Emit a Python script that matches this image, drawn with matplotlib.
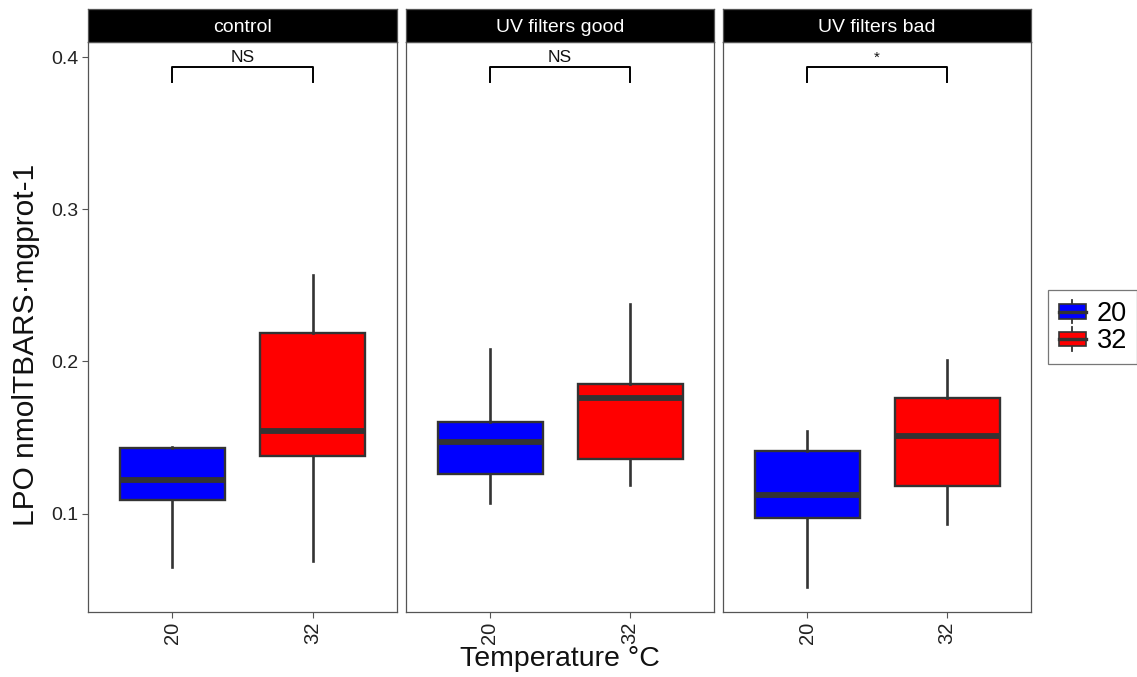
import matplotlib
matplotlib.use("Agg")
import matplotlib.pyplot as plt
from matplotlib.legend_handler import HandlerBase
from matplotlib.patches import Rectangle
from matplotlib.lines import Line2D

plt.rcParams['font.family'] = ['Liberation Sans', 'DejaVu Sans']

# ---- data ----
panels = ["control", "UV filters good", "UV filters bad"]
temps = ["20", "32"]
colors = {"20": "#0000FF", "32": "#FF0000"}
# per panel: [temp20, temp32]
whislo = [[0.065, 0.069], [0.107, 0.119], [0.052, 0.093]]
q1     = [[0.109, 0.138], [0.126, 0.136], [0.097, 0.118]]
med    = [[0.122, 0.154], [0.147, 0.176], [0.112, 0.151]]
q3     = [[0.143, 0.219], [0.160, 0.185], [0.141, 0.176]]
whishi = [[0.144, 0.257], [0.208, 0.238], [0.154, 0.201]]
signif = ["NS", "NS", "*"]
yticks = [0.1, 0.2, 0.3, 0.4]

W, H = 1137, 677
fig = plt.figure(figsize=(W / 100, H / 100), dpi=100)

panel_px = [(88, 397), (406, 714), (723, 1031)]
top_px, bot_px, strip_top = 42, 612, 9
edge = "#333333"
frame = "#555555"

axes = []
for i, (x0, x1) in enumerate(panel_px):
    ax = fig.add_axes([x0 / W, (H - bot_px) / H, (x1 - x0) / W, (bot_px - top_px) / H])
    axes.append(ax)
    stats = []
    for j, t in enumerate(temps):
        stats.append(dict(med=med[i][j], q1=q1[i][j], q3=q3[i][j],
                          whislo=whislo[i][j], whishi=whishi[i][j], fliers=[]))
    bp = ax.bxp(stats, positions=[1, 2], widths=0.75, patch_artist=True,
                showcaps=False, showfliers=False,
                boxprops=dict(edgecolor=edge, linewidth=1.7),
                medianprops=dict(color=edge, linewidth=4.2, solid_capstyle='butt'),
                whiskerprops=dict(color=edge, linewidth=1.9))
    for patch, t in zip(bp['boxes'], temps):
        patch.set_facecolor(colors[t])
    ax.set_xlim(0.4, 2.6)
    ax.set_ylim(0.0353, 0.41)
    ax.set_xticks([1, 2])
    ax.set_xticklabels(temps, rotation=90, fontsize=14.5, color="#222222")
    ax.set_yticks(yticks)
    if i == 0:
        ax.set_yticklabels([f"{v:.1f}" for v in yticks], fontsize=14, color="#222222")
    else:
        ax.tick_params(axis='y', left=False, labelleft=False)
    ax.tick_params(axis='both', length=4, width=0.8, color=frame, pad=3)
    for s in ax.spines.values():
        s.set_color(frame)
        s.set_linewidth(0.9)
    # significance bracket
    ax.plot([1, 1, 2, 2], [0.3836, 0.3934, 0.3934, 0.3836], color="black", linewidth=1.4)
    ax.text(1.5, 0.3967, signif[i], ha='center', va='baseline',
            fontsize=12.5 if signif[i] != "*" else 11, color="#111111")
    # strip
    sax = fig.add_axes([x0 / W, (H - top_px) / H, (x1 - x0) / W, (top_px - strip_top) / H])
    sax.set_facecolor("black")
    sax.set_xticks([])
    sax.set_yticks([])
    for s in sax.spines.values():
        s.set_color(frame)
        s.set_linewidth(0.9)
    sax.text(0.5, 0.45, panels[i], transform=sax.transAxes, ha='center', va='center',
             color='white', fontsize=14)

fig.text(26 / W, 1 - 345 / H, "LPO nmolTBARS·mgprot-1", rotation=90, ha='center', va='center',
         fontsize=21.5, color="#111111")
fig.text(560 / W, 1 - 659 / H, "Temperature °C", ha='center', va='center', fontsize=20.5,
         color="#111111")


class BoxHandler(HandlerBase):
    def __init__(self, fc):
        super().__init__()
        self.fc = fc

    def create_artists(self, legend, orig_handle, xdescent, ydescent, width, height, fontsize, trans):
        bw = width * 0.9
        bx = (width - bw) / 2 - xdescent
        by = -ydescent + height * 0.2
        bh = height * 0.6
        r = Rectangle((bx, by), bw, bh, facecolor=self.fc, edgecolor=edge, linewidth=1.2, transform=trans)
        cx = bx + bw / 2
        w1 = Line2D([cx, cx], [-ydescent + height * 0.02, by], color=edge, linewidth=1.3, transform=trans)
        w2 = Line2D([cx, cx], [by + bh, -ydescent + height * 0.98], color=edge, linewidth=1.3, transform=trans)
        m = Line2D([bx, bx + bw], [by + bh / 2] * 2, color=edge, linewidth=2.4, transform=trans)
        return [w1, w2, r, m]


handles = [Rectangle((0, 0), 1, 1, facecolor=colors[t]) for t in temps]
leg = fig.legend(handles, temps, loc='center left', bbox_to_anchor=(1048 / W, 1 - 327 / H),
                 handler_map={handles[0]: BoxHandler(colors["20"]), handles[1]: BoxHandler(colors["32"])},
                 fontsize=19.5, frameon=True, fancybox=False, handlelength=1.1, handleheight=1.0,
                 handletextpad=0.35, borderpad=0.35, labelspacing=0.0, borderaxespad=0)
leg.get_frame().set_edgecolor(frame)
leg.get_frame().set_linewidth(0.9)

fig.savefig("out.png", dpi=100)
